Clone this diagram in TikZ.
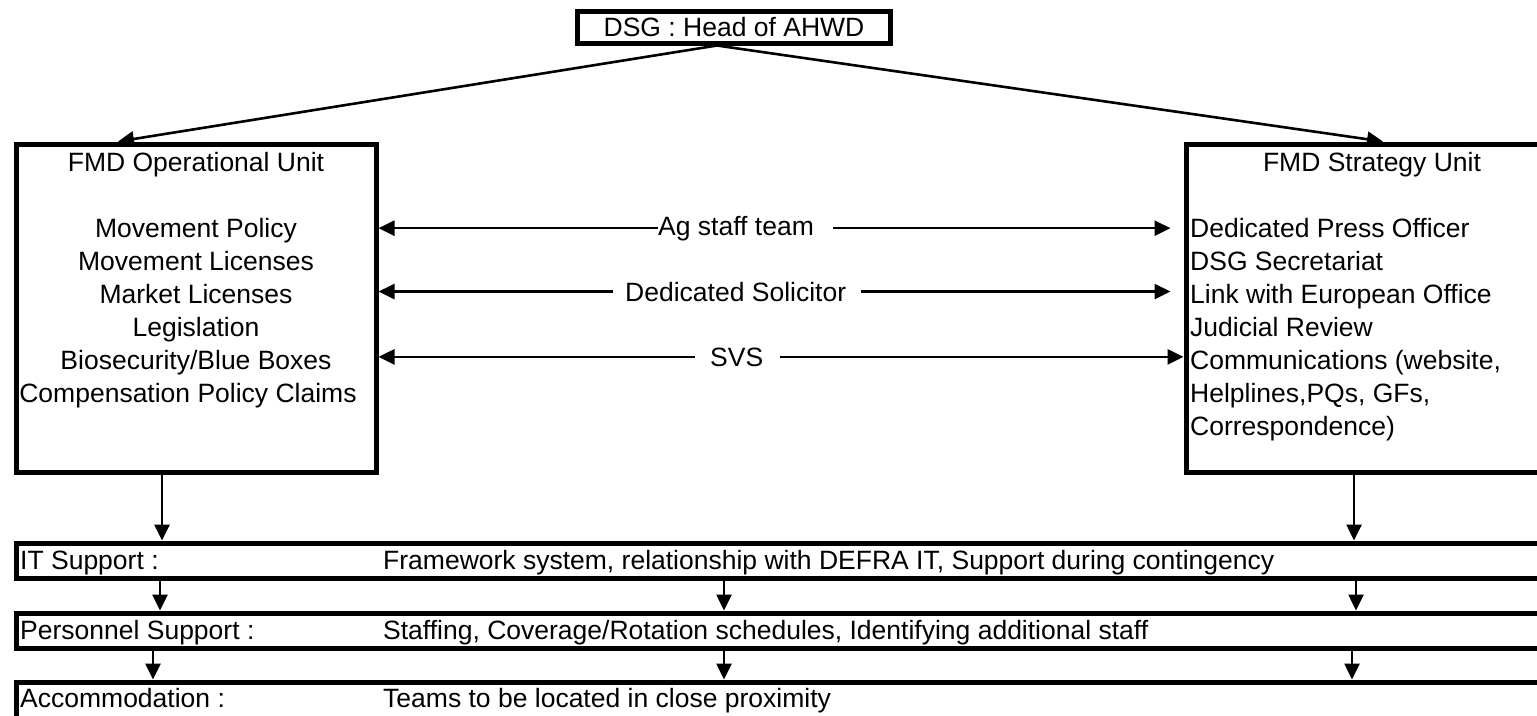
\documentclass[tikz,border=0pt]{standalone}
\usepackage{fontspec}
\setmainfont{Liberation Sans}
\usetikzlibrary{arrows.meta,calc}
\begin{document}
\begin{tikzpicture}[x=1pt,y=-1pt,
  box/.style={draw, line width=5pt, inner sep=0pt, fill=white},
  lbl/.style={inner sep=0pt, font=\fontsize{26.5}{33}\selectfont},
  arr/.style={line width=2.6pt, -{Triangle[length=16pt,width=15pt]}},
  bar/.style={box, minimum width=1600pt}
]
\useasboundingbox (0,0) rectangle (1537,715);
\clip (0,0) rectangle (1537,715);
\fill[white] (0,0) rectangle (1537,715);

% top box
\node[box, lbl, minimum width=313pt, minimum height=32pt] (head) at (734,27) {DSG : Head of AHWD};

% unit boxes
\node[box, minimum width=360pt, minimum height=328pt] (op) at (196,308) {};
\node[lbl, align=center, anchor=north] (optxt) at (196,152)
  {FMD Operational Unit\\[33pt]Movement Policy\\Movement Licenses\\Market Licenses\\Legislation\\Biosecurity/Blue Boxes\\Compensation Policy Claims\hspace*{16pt}};

\node[box, minimum width=420pt, minimum height=328pt] (st) at (1396,308) {};
\node[lbl, anchor=north] (sttitle) at (1372,152) {FMD Strategy Unit};
\node[lbl, align=left, anchor=north west] (stlist) at (1190,218)
  {Dedicated Press Officer\\DSG Secretariat\\Link with European Office\\Judicial Review\\Communications (website,\\Helplines,PQs, GFs,\\Correspondence)};

% lines from head
\coordinate (src) at ($(head.south)+(-17,0)$);
\draw[arr] (src) -- ($(op.north)+(-78,0)$);
\draw[arr] (src) -- ($(st.north)+(-13,0)$);

% middle links
\node[lbl, anchor=base west] (ag) at (658,235) {Ag staff team};
\node[lbl, anchor=base west] (sol) at (625,301) {Dedicated Solicitor};
\node[lbl, anchor=base west] (svs) at (710,366) {SVS};
\draw[arr] (ag.west) -- (ag.west -| op.east);
\draw[arr] ($(ag.east)+(19,0)$) -- ($(ag.east -| st.west)+(-13,0)$);
\draw[arr] ($(sol.west)+(-12,0)$) -- (sol.west -| op.east);
\draw[arr] ($(sol.east)+(15,0)$) -- ($(sol.east -| st.west)+(-13,0)$);
\draw[arr] ($(svs.west)+(-15,0)$) -- (svs.west -| op.east);
\draw[arr] ($(svs.east)+(17,0)$) -- (svs.east -| st.west);

% support bars
\node[bar, minimum height=35pt] (it) at (816,560.5) {};
\node[bar, minimum height=35pt] (pers) at (816,630.5) {};
\node[bar, minimum height=40pt] (acc) at (816,702) {};

\node[lbl, anchor=base west] (itlab) at (20,569) {IT Support :};
\node[lbl, anchor=base west] (itdesc) at (383,569) {Framework system, relationship with DEFRA IT, Support during contingency};
\node[lbl, anchor=base west] (perslab) at (20,639) {Personnel Support :};
\node[lbl, anchor=base west] (persdesc) at (383,639) {Staffing, Coverage/Rotation schedules, Identifying additional staff};
\node[lbl, anchor=base west] (acclab) at (20,707) {Accommodation :};
\node[lbl, anchor=base west] (accdesc) at (383,707) {Teams to be located in close proximity};

% vertical arrows
\coordinate (cOp) at (162,0);
\coordinate (cSt) at (1354,0);
\draw[arr] (op.south -| cOp) -- (it.north -| cOp);
\draw[arr] (st.south -| cSt) -- (it.north -| cSt);
\foreach \x in {160,724,1356} {
  \coordinate (c) at (\x,0);
  \draw[arr] (it.south -| c) -- (pers.north -| c);
}
\foreach \x in {153,724,1352} {
  \coordinate (c) at (\x,0);
  \draw[arr] (pers.south -| c) -- (acc.north -| c);
}
\end{tikzpicture}
\end{document}
